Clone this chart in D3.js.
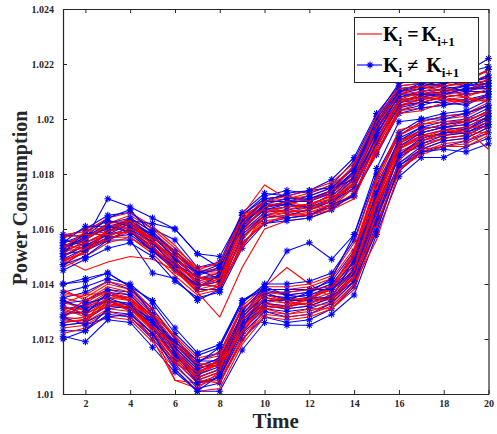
<!DOCTYPE html>
<html>
<head>
<meta charset="utf-8">
<script src="https://cdn.jsdelivr.net/npm/d3@7"></script>
<style>
  body { margin: 0; background: #fff; }
  .axis text { font-family: "Liberation Serif", "Times New Roman", serif; font-weight: bold; font-size: 10px; fill: #262626; }
  .axis path, .axis line { stroke: #262626; }
</style>
</head>
<body>
<div id="chart"></div>
<script>
var width = 497, height = 434;
var padding = { left: 63, right: 8, top: 9, bottom: 40 };

var xTicks = [2, 4, 6, 8, 10, 12, 14, 16, 18, 20];
var yTicks = [1.01, 1.012, 1.014, 1.016, 1.018, 1.02, 1.022, 1.024];
var yTickLabels = ["1.01", "1.012", "1.014", "1.016", "1.018", "1.02", "1.022", "1.024"];
var times = [1,2,3,4,5,6,7,8,9,10,11,12,13,14,15,16,17,18,19,20];

// K_i = K_i+1 (red), upper group
var redUpper = [
  [1.0150,1.0154,1.0156,1.0159,1.0154,1.0145,1.0139,1.0141,1.0156,1.0165,1.0167,1.0166,1.0168,1.0175,1.0191,1.0206,1.0209,1.0208,1.0209,1.0210],
  [1.0155,1.0157,1.0160,1.0164,1.0157,1.0152,1.0144,1.0144,1.0163,1.0168,1.0170,1.0171,1.0173,1.0181,1.0198,1.0210,1.0211,1.0213,1.0212,1.0213],
  [1.0147,1.0152,1.0157,1.0157,1.0152,1.0146,1.0137,1.0139,1.0154,1.0164,1.0166,1.0165,1.0169,1.0172,1.0189,1.0205,1.0207,1.0208,1.0206,1.0209],
  [1.0153,1.0158,1.0159,1.0164,1.0159,1.0152,1.0144,1.0146,1.0163,1.0168,1.0169,1.0171,1.0173,1.0179,1.0196,1.0208,1.0209,1.0211,1.0212,1.0213],
  [1.0149,1.0145,1.0148,1.0150,1.0149,1.0145,1.0137,1.0128,1.0146,1.0160,1.0163,1.0164,1.0167,1.0173,1.0188,1.0203,1.0204,1.0205,1.0207,1.0208],
  [1.0157,1.0160,1.0163,1.0162,1.0156,1.0148,1.0140,1.0143,1.0165,1.0176,1.0171,1.0172,1.0175,1.0183,1.0199,1.0211,1.0212,1.0214,1.0213,1.0216],
  [1.0152,1.0153,1.0158,1.0159,1.0153,1.0147,1.0139,1.0142,1.0159,1.0165,1.0166,1.0167,1.0170,1.0176,1.0191,1.0205,1.0206,1.0208,1.0209,1.0210],
  [1.0154,1.0156,1.0162,1.0165,1.0160,1.0153,1.0146,1.0147,1.0164,1.0170,1.0171,1.0173,1.0176,1.0182,1.0198,1.0210,1.0211,1.0213,1.0214,1.0215],
  [1.0146,1.0150,1.0155,1.0157,1.0151,1.0143,1.0136,1.0138,1.0154,1.0163,1.0164,1.0165,1.0168,1.0173,1.0188,1.0202,1.0203,1.0206,1.0207,1.0207],
  [1.0156,1.0155,1.0159,1.0161,1.0156,1.0149,1.0142,1.0142,1.0161,1.0167,1.0168,1.0169,1.0172,1.0178,1.0194,1.0207,1.0208,1.0210,1.0211,1.0212],
  [1.0152,1.0157,1.0161,1.0162,1.0155,1.0147,1.0141,1.0143,1.0160,1.0168,1.0166,1.0168,1.0173,1.0180,1.0195,1.0206,1.0209,1.0211,1.0210,1.0213],
  [1.0148,1.0152,1.0157,1.0161,1.0157,1.0151,1.0143,1.0140,1.0157,1.0165,1.0167,1.0169,1.0171,1.0176,1.0193,1.0205,1.0207,1.0209,1.0211,1.0211],
  [1.0158,1.0159,1.0164,1.0166,1.0161,1.0154,1.0145,1.0145,1.0163,1.0171,1.0172,1.0174,1.0177,1.0184,1.0200,1.0212,1.0213,1.0215,1.0216,1.0217],
  [1.0150,1.0155,1.0158,1.0159,1.0153,1.0145,1.0137,1.0139,1.0157,1.0164,1.0165,1.0166,1.0169,1.0175,1.0190,1.0203,1.0206,1.0208,1.0209,1.0210],
  [1.0153,1.0159,1.0161,1.0160,1.0152,1.0147,1.0142,1.0144,1.0165,1.0169,1.0169,1.0167,1.0169,1.0177,1.0199,1.0209,1.0212,1.0210,1.0209,1.0215],
  [1.0149,1.0151,1.0160,1.0163,1.0156,1.0148,1.0140,1.0139,1.0153,1.0166,1.0168,1.0169,1.0172,1.0174,1.0187,1.0204,1.0208,1.0207,1.0206,1.0207],
  [1.0157,1.0158,1.0158,1.0159,1.0155,1.0150,1.0142,1.0142,1.0162,1.0170,1.0172,1.0170,1.0174,1.0183,1.0201,1.0211,1.0212,1.0212,1.0213,1.0218],
  [1.0151,1.0156,1.0162,1.0163,1.0156,1.0146,1.0138,1.0140,1.0159,1.0168,1.0170,1.0168,1.0170,1.0178,1.0197,1.0209,1.0210,1.0209,1.0208,1.0211],
  [1.0154,1.0153,1.0156,1.0160,1.0157,1.0152,1.0145,1.0148,1.0164,1.0167,1.0166,1.0167,1.0171,1.0176,1.0192,1.0207,1.0210,1.0212,1.0213,1.0214],
  [1.0148,1.0153,1.0159,1.0162,1.0154,1.0144,1.0139,1.0142,1.0155,1.0162,1.0165,1.0165,1.0167,1.0171,1.0190,1.0206,1.0208,1.0207,1.0208,1.0206]
];

// K_i != K_i+1 (blue), upper group
var blueUpper = [
  [1.0153,1.0156,1.0171,1.0168,1.0164,1.0160,1.0151,1.0150,1.0165,1.0172,1.0174,1.0173,1.0176,1.0185,1.0201,1.0213,1.0214,1.0216,1.0217,1.0222],
  [1.0147,1.0152,1.0156,1.0156,1.0144,1.0142,1.0134,1.0138,1.0155,1.0162,1.0164,1.0165,1.0168,1.0172,1.0188,1.0203,1.0205,1.0207,1.0207,1.0209],
  [1.0155,1.0158,1.0160,1.0163,1.0158,1.0149,1.0142,1.0143,1.0161,1.0169,1.0169,1.0171,1.0174,1.0180,1.0196,1.0208,1.0209,1.0210,1.0212,1.0214],
  [1.0150,1.0154,1.0158,1.0160,1.0153,1.0146,1.0139,1.0141,1.0159,1.0166,1.0167,1.0168,1.0170,1.0177,1.0193,1.0206,1.0207,1.0209,1.0210,1.0212],
  [1.0157,1.0160,1.0165,1.0166,1.0160,1.0156,1.0146,1.0148,1.0166,1.0173,1.0172,1.0174,1.0178,1.0186,1.0202,1.0212,1.0213,1.0215,1.0217,1.0219],
  [1.0145,1.0149,1.0153,1.0155,1.0150,1.0141,1.0135,1.0137,1.0153,1.0162,1.0163,1.0164,1.0167,1.0173,1.0187,1.0202,1.0204,1.0205,1.0206,1.0208],
  [1.0152,1.0155,1.0159,1.0162,1.0156,1.0148,1.0141,1.0143,1.0161,1.0167,1.0168,1.0169,1.0172,1.0179,1.0195,1.0207,1.0208,1.0210,1.0211,1.0213],
  [1.0158,1.0157,1.0162,1.0164,1.0159,1.0151,1.0144,1.0145,1.0163,1.0170,1.0170,1.0172,1.0175,1.0182,1.0198,1.0209,1.0211,1.0212,1.0213,1.0215],
  [1.0149,1.0153,1.0157,1.0158,1.0152,1.0145,1.0140,1.0139,1.0157,1.0164,1.0165,1.0167,1.0170,1.0176,1.0191,1.0205,1.0206,1.0208,1.0209,1.0210],
  [1.0154,1.0156,1.0161,1.0163,1.0157,1.0150,1.0142,1.0144,1.0162,1.0168,1.0170,1.0170,1.0173,1.0181,1.0197,1.0208,1.0210,1.0211,1.0212,1.0216],
  [1.0151,1.0159,1.0163,1.0161,1.0155,1.0147,1.0143,1.0146,1.0160,1.0167,1.0169,1.0168,1.0171,1.0178,1.0193,1.0206,1.0208,1.0209,1.0211,1.0212],
  [1.0156,1.0154,1.0158,1.0162,1.0158,1.0152,1.0145,1.0142,1.0162,1.0169,1.0171,1.0171,1.0174,1.0183,1.0199,1.0210,1.0212,1.0213,1.0214,1.0218],
  [1.0147,1.0150,1.0156,1.0160,1.0155,1.0146,1.0138,1.0138,1.0158,1.0165,1.0164,1.0165,1.0169,1.0172,1.0192,1.0204,1.0206,1.0206,1.0205,1.0209],
  [1.0153,1.0157,1.0164,1.0167,1.0158,1.0149,1.0144,1.0147,1.0165,1.0171,1.0172,1.0170,1.0174,1.0181,1.0200,1.0211,1.0212,1.0214,1.0212,1.0213],
  [1.0151,1.0152,1.0159,1.0163,1.0162,1.0160,1.0151,1.0146,1.0162,1.0168,1.0169,1.0168,1.0170,1.0175,1.0194,1.0209,1.0209,1.0209,1.0211,1.0211],
  [1.0155,1.0161,1.0161,1.0159,1.0152,1.0146,1.0139,1.0143,1.0163,1.0170,1.0173,1.0174,1.0175,1.0178,1.0196,1.0210,1.0213,1.0212,1.0210,1.0210]
];

// K_i = K_i+1 (red), lower group
var redLower = [
  [1.0130,1.0129,1.0134,1.0132,1.0124,1.0114,1.0106,1.0109,1.0125,1.0133,1.0132,1.0133,1.0136,1.0145,1.0168,1.0188,1.0192,1.0194,1.0195,1.0199],
  [1.0135,1.0133,1.0138,1.0136,1.0128,1.0118,1.0110,1.0113,1.0129,1.0137,1.0136,1.0137,1.0140,1.0150,1.0174,1.0192,1.0196,1.0198,1.0199,1.0203],
  [1.0125,1.0126,1.0131,1.0130,1.0122,1.0110,1.0103,1.0106,1.0121,1.0130,1.0129,1.0130,1.0133,1.0141,1.0163,1.0184,1.0189,1.0192,1.0193,1.0197],
  [1.0133,1.0132,1.0137,1.0135,1.0127,1.0117,1.0108,1.0111,1.0127,1.0135,1.0134,1.0135,1.0139,1.0148,1.0171,1.0190,1.0194,1.0196,1.0197,1.0201],
  [1.0128,1.0127,1.0133,1.0131,1.0123,1.0105,1.0104,1.0107,1.0123,1.0139,1.0146,1.0140,1.0135,1.0143,1.0166,1.0187,1.0190,1.0193,1.0194,1.0198],
  [1.0137,1.0135,1.0140,1.0138,1.0130,1.0120,1.0112,1.0114,1.0131,1.0138,1.0138,1.0139,1.0142,1.0153,1.0177,1.0194,1.0198,1.0200,1.0201,1.0205],
  [1.0122,1.0124,1.0128,1.0127,1.0119,1.0109,1.0101,1.0102,1.0118,1.0128,1.0127,1.0128,1.0131,1.0138,1.0160,1.0182,1.0187,1.0190,1.0191,1.0195],
  [1.0131,1.0131,1.0136,1.0134,1.0126,1.0116,1.0107,1.0111,1.0126,1.0134,1.0133,1.0134,1.0137,1.0147,1.0170,1.0189,1.0193,1.0195,1.0196,1.0200],
  [1.0127,1.0128,1.0132,1.0133,1.0125,1.0113,1.0105,1.0108,1.0124,1.0132,1.0131,1.0132,1.0135,1.0144,1.0167,1.0187,1.0191,1.0193,1.0194,1.0198],
  [1.0134,1.0130,1.0135,1.0134,1.0127,1.0117,1.0109,1.0112,1.0128,1.0136,1.0135,1.0136,1.0138,1.0149,1.0172,1.0191,1.0195,1.0197,1.0198,1.0202],
  [1.0129,1.0134,1.0139,1.0137,1.0129,1.0119,1.0111,1.0110,1.0127,1.0133,1.0135,1.0134,1.0139,1.0151,1.0175,1.0192,1.0195,1.0197,1.0199,1.0200],
  [1.0124,1.0125,1.0130,1.0128,1.0121,1.0112,1.0104,1.0105,1.0120,1.0129,1.0128,1.0129,1.0132,1.0140,1.0161,1.0182,1.0188,1.0191,1.0192,1.0196],
  [1.0136,1.0136,1.0141,1.0139,1.0131,1.0121,1.0113,1.0115,1.0132,1.0139,1.0139,1.0140,1.0143,1.0155,1.0179,1.0194,1.0199,1.0201,1.0202,1.0206],
  [1.0132,1.0129,1.0133,1.0131,1.0125,1.0115,1.0106,1.0109,1.0125,1.0131,1.0132,1.0133,1.0136,1.0146,1.0169,1.0187,1.0192,1.0195,1.0196,1.0189],
  [1.0128,1.0132,1.0134,1.0130,1.0120,1.0105,1.0102,1.0108,1.0129,1.0136,1.0134,1.0132,1.0133,1.0143,1.0160,1.0185,1.0192,1.0195,1.0197,1.0197],
  [1.0133,1.0136,1.0137,1.0134,1.0129,1.0121,1.0110,1.0110,1.0123,1.0132,1.0132,1.0135,1.0138,1.0150,1.0178,1.0196,1.0198,1.0199,1.0199,1.0203],
  [1.0126,1.0127,1.0135,1.0135,1.0128,1.0116,1.0105,1.0104,1.0119,1.0131,1.0129,1.0131,1.0131,1.0140,1.0156,1.0181,1.0189,1.0190,1.0190,1.0194],
  [1.0131,1.0128,1.0132,1.0132,1.0123,1.0111,1.0107,1.0113,1.0131,1.0137,1.0137,1.0138,1.0139,1.0152,1.0171,1.0191,1.0196,1.0198,1.0200,1.0202],
  [1.0138,1.0134,1.0137,1.0134,1.0123,1.0113,1.0108,1.0112,1.0127,1.0135,1.0133,1.0133,1.0135,1.0142,1.0165,1.0189,1.0194,1.0194,1.0196,1.0199],
  [1.0127,1.0126,1.0134,1.0131,1.0124,1.0118,1.0111,1.0111,1.0122,1.0133,1.0131,1.0135,1.0134,1.0145,1.0170,1.0190,1.0193,1.0196,1.0195,1.0195]
];

// K_i != K_i+1 (blue), lower group
var blueLower = [
  [1.0140,1.0141,1.0144,1.0139,1.0134,1.0124,1.0115,1.0118,1.0134,1.0139,1.0152,1.0155,1.0149,1.0158,1.0180,1.0195,1.0200,1.0202,1.0203,1.0207],
  [1.0121,1.0119,1.0127,1.0126,1.0117,1.0108,1.0101,1.0101,1.0116,1.0126,1.0125,1.0125,1.0129,1.0136,1.0158,1.0179,1.0186,1.0186,1.0190,1.0193],
  [1.0131,1.0132,1.0136,1.0135,1.0127,1.0116,1.0108,1.0111,1.0127,1.0135,1.0134,1.0135,1.0138,1.0147,1.0171,1.0189,1.0194,1.0196,1.0197,1.0201],
  [1.0126,1.0127,1.0132,1.0131,1.0124,1.0113,1.0105,1.0108,1.0123,1.0131,1.0130,1.0131,1.0134,1.0143,1.0165,1.0184,1.0190,1.0193,1.0194,1.0198],
  [1.0135,1.0137,1.0141,1.0138,1.0131,1.0120,1.0112,1.0115,1.0131,1.0137,1.0137,1.0138,1.0141,1.0152,1.0176,1.0192,1.0197,1.0199,1.0200,1.0204],
  [1.0123,1.0123,1.0129,1.0128,1.0120,1.0111,1.0102,1.0104,1.0120,1.0128,1.0126,1.0127,1.0131,1.0139,1.0162,1.0181,1.0188,1.0190,1.0192,1.0195],
  [1.0133,1.0134,1.0138,1.0137,1.0129,1.0118,1.0110,1.0113,1.0129,1.0138,1.0136,1.0137,1.0140,1.0150,1.0173,1.0191,1.0196,1.0198,1.0199,1.0203],
  [1.0129,1.0130,1.0134,1.0133,1.0126,1.0115,1.0107,1.0110,1.0126,1.0133,1.0132,1.0133,1.0136,1.0145,1.0169,1.0187,1.0192,1.0195,1.0196,1.0200],
  [1.0137,1.0139,1.0142,1.0140,1.0133,1.0122,1.0114,1.0117,1.0133,1.0140,1.0140,1.0141,1.0144,1.0156,1.0179,1.0194,1.0199,1.0201,1.0202,1.0205],
  [1.0125,1.0126,1.0130,1.0129,1.0122,1.0112,1.0104,1.0106,1.0122,1.0130,1.0128,1.0129,1.0133,1.0141,1.0164,1.0183,1.0189,1.0192,1.0193,1.0197],
  [1.0132,1.0129,1.0137,1.0136,1.0128,1.0117,1.0109,1.0112,1.0128,1.0136,1.0135,1.0136,1.0139,1.0148,1.0172,1.0190,1.0195,1.0197,1.0198,1.0202],
  [1.0128,1.0133,1.0135,1.0132,1.0125,1.0114,1.0106,1.0109,1.0125,1.0132,1.0131,1.0132,1.0135,1.0144,1.0167,1.0186,1.0191,1.0194,1.0195,1.0199],
  [1.0120,1.0123,1.0131,1.0132,1.0127,1.0119,1.0112,1.0112,1.0127,1.0134,1.0134,1.0134,1.0135,1.0149,1.0173,1.0193,1.0197,1.0197,1.0196,1.0201],
  [1.0140,1.0142,1.0144,1.0139,1.0129,1.0115,1.0104,1.0106,1.0124,1.0137,1.0134,1.0137,1.0142,1.0158,1.0182,1.0199,1.0200,1.0200,1.0202,1.0205],
  [1.0128,1.0125,1.0128,1.0129,1.0122,1.0109,1.0101,1.0107,1.0130,1.0139,1.0136,1.0135,1.0135,1.0141,1.0159,1.0183,1.0188,1.0189,1.0188,1.0191],
  [1.0134,1.0131,1.0134,1.0131,1.0126,1.0118,1.0111,1.0117,1.0134,1.0138,1.0138,1.0138,1.0138,1.0145,1.0164,1.0187,1.0193,1.0195,1.0195,1.0198]
];

var redColor = "#ff0000", blueColor = "#0000ff";

var svg = d3.select("#chart").append("svg")
  .attr("width", width)
  .attr("height", height);

var x_scale = d3.scaleLinear().domain([1, 20]).range([padding.left, width - padding.right - 0.5]);
var y_scale = d3.scaleLinear().domain([1.01, 1.024]).range([height - padding.bottom, padding.top]);

var lineGen = d3.line()
  .x(function(d, i) { return x_scale(times[i]); })
  .y(function(d) { return y_scale(d); });

// asterisk marker like matlab '*'
function star(cx, cy, r) {
  var s = r * 0.7;
  return "M" + (cx - r) + "," + cy + "L" + (cx + r) + "," + cy +
         "M" + cx + "," + (cy - r) + "L" + cx + "," + (cy + r) +
         "M" + (cx - s) + "," + (cy - s) + "L" + (cx + s) + "," + (cy + s) +
         "M" + (cx - s) + "," + (cy + s) + "L" + (cx + s) + "," + (cy - s);
}

var plotg = svg.append("g").attr("class", "plotg");

function drawSeries(d, color, marks) {
  var g = plotg.append("g");
  g.append("path")
    .attr("d", lineGen(d))
    .style("fill", "none")
    .style("stroke", color)
    .style("stroke-width", "1.1px");
  if (marks) {
    g.append("path")
      .attr("d", d.map(function(v, i) { return star(x_scale(times[i]), y_scale(v), 3.4); }).join(""))
      .style("fill", "none")
      .style("stroke", color)
      .style("stroke-width", "1.1px");
  }
}

// interleave red and blue runs, upper and lower groups
var n = Math.max(redUpper.length, blueUpper.length, redLower.length, blueLower.length);
for (var i = 0; i < n; i++) {
  if (redUpper[i]) drawSeries(redUpper[i], redColor, false);
  if (redLower[i]) drawSeries(redLower[i], redColor, false);
  if (blueUpper[i]) drawSeries(blueUpper[i], blueColor, true);
  if (blueLower[i]) drawSeries(blueLower[i], blueColor, true);
}

// axes (box with inward ticks)
var x0 = padding.left, x1 = width - padding.right - 0.5;
var y0 = height - padding.bottom, y1 = padding.top;

svg.append("g").attr("class", "x axis")
  .attr("transform", "translate(0," + y0 + ")")
  .call(d3.axisBottom(x_scale).tickValues(xTicks).tickSizeInner(-4).tickSizeOuter(0).tickPadding(6));
svg.append("g").attr("class", "x axis")
  .attr("transform", "translate(0," + y1 + ")")
  .call(d3.axisTop(x_scale).tickValues(xTicks).tickSizeInner(-4).tickSizeOuter(0).tickFormat(""));
svg.append("g").attr("class", "y axis")
  .attr("transform", "translate(" + x0 + ",0)")
  .call(d3.axisLeft(y_scale).tickValues(yTicks).tickSizeInner(-4).tickSizeOuter(0).tickPadding(9)
    .tickFormat(function(d, i) { return yTickLabels[i]; }));
svg.append("g").attr("class", "y axis")
  .attr("transform", "translate(" + x1 + ",0)")
  .call(d3.axisRight(y_scale).tickValues(yTicks).tickSizeInner(-4).tickSizeOuter(0).tickFormat(""));
svg.selectAll(".axis path").style("stroke-width", "1.2px");

// axis titles
svg.append("text")
  .attr("x", (x0 + x1) / 2).attr("y", 428)
  .attr("text-anchor", "middle")
  .style("font-family", "'Liberation Serif', serif").style("font-weight", "bold")
  .style("font-size", "21px").style("fill", "#262626")
  .text("Time");
svg.append("text")
  .attr("transform", "translate(27," + 198 + ") rotate(-90)")
  .attr("text-anchor", "middle")
  .style("font-family", "'Liberation Serif', serif").style("font-weight", "bold")
  .style("font-size", "20px").style("fill", "#262626")
  .text("Power Consumption");

// legend
var legend = svg.append("g").attr("class", "legend");
legend.append("rect")
  .attr("x", 354.5).attr("y", 17.5).attr("width", 124).attr("height", 65)
  .attr("fill", "#fff").attr("stroke", "#262626").attr("stroke-width", 1);

var legendItems = [
  { color: redColor, marks: false, rel: "=", y: 34, gap: 3 },
  { color: blueColor, marks: true, rel: "\u2260", y: 65, gap: 8 }
];
legendItems.forEach(function(it) {
  legend.append("line")
    .attr("x1", 357).attr("x2", 382).attr("y1", it.y).attr("y2", it.y)
    .style("stroke", it.color).style("stroke-width", "1.1px");
  if (it.marks) {
    legend.append("path").attr("d", star(370, it.y, 3.4))
      .style("fill", "none").style("stroke", it.color).style("stroke-width", "1.1px");
  }
  var t = legend.append("text")
    .attr("x", 383).attr("y", it.y + 7)
    .style("font-family", "'Liberation Serif', serif").style("font-weight", "bold")
    .style("font-size", "20px").style("fill", "#000");
  t.append("tspan").text("K");
  t.append("tspan").attr("dy", 5).style("font-size", "13px").text("i");
  t.append("tspan").attr("dy", -5).attr("dx", 5).text(it.rel);
  t.append("tspan").attr("dx", it.gap).text("K");
  t.append("tspan").attr("dy", 5).style("font-size", "13px").text("i+1");
});
</script>
</body>
</html>
